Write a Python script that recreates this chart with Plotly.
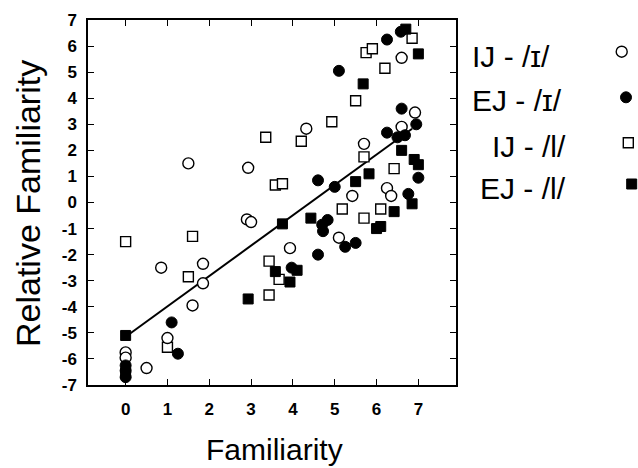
import plotly.graph_objects as go

# ---------------- data ----------------
ij_i_x = [0, 0, 0.5, 1.0, 0.85, 1.5, 1.6, 1.85, 1.85, 2.93, 2.9, 3.0, 3.93, 4.32, 5.1, 5.42, 5.7, 6.25, 6.35, 6.6, 6.6, 6.92]
ij_i_y = [-5.75, -5.95, -6.35, -5.2, -2.5, 1.5, -3.95, -2.35, -3.1, 1.33, -0.65, -0.75, -1.75, 2.83, -1.35, 0.25, 2.25, 0.55, 0.25, 2.9, 5.55, 3.45]

ej_i_x = [0, 0, 0, 1.1, 1.25, 3.97, 4.6, 4.6, 4.7, 4.72, 4.83, 5.0, 5.1, 5.25, 5.5, 6.25, 6.58, 6.25, 6.5, 6.68, 6.6, 6.95, 7.0, 6.76]
ej_i_y = [-6.25, -6.45, -6.7, -4.6, -5.8, -2.5, -2.0, 0.85, -0.85, -1.1, -0.67, 0.6, 5.05, -1.7, -1.55, 6.25, 6.55, 2.68, 2.5, 2.58, 3.6, 3.0, 0.95, 0.33]

ij_l_x = [0, 1.0, 1.5, 1.6, 3.35, 3.43, 3.43, 3.58, 3.75, 3.67, 4.2, 4.93, 5.18, 5.5, 5.7, 5.7, 5.75, 5.9, 6.1, 6.2, 6.42, 6.85]
ij_l_y = [-1.5, -5.55, -2.85, -1.3, 2.5, -2.25, -3.55, 0.67, 0.72, -2.95, 2.35, 3.1, -0.25, 3.9, 1.75, -0.6, 5.75, 5.9, -0.25, 5.15, 1.3, 6.3]

ej_l_x = [0, 0, 2.93, 3.58, 3.75, 3.93, 4.1, 4.43, 5.5, 5.68, 5.82, 6.0, 6.1, 6.42, 6.6, 6.7, 6.85, 6.9, 7.0, 7.0]
ej_l_y = [-5.1, -6.55, -3.7, -2.65, -0.82, -3.05, -2.6, -0.6, 0.8, 4.55, 1.1, -1.0, -0.92, -0.35, 2.0, 6.65, -0.05, 1.65, 1.45, 5.7]

fit_x = [0, 6.85]
fit_y = [-5.15, 2.83]

x_ticks = [0, 1, 2, 3, 4, 5, 6, 7]
y_ticks = [7, 6, 5, 4, 3, 2, 1, 0, -1, -2, -3, -4, -5, -6, -7]
y_tick_text = ["7", "6", "5", "4", "3", "2", "1", "0", "-1", "-2", "-3", "-4", "-5", "-6", "-7"]

legend_labels = ["IJ - /\u026a/", "EJ - /\u026a/", "IJ - /l/", "EJ - /l/"]

# ---------------- layout geometry (pixels in the 638x468 window) ----------------
W, H = 638, 468
PL, PR, PT, PB = 88, 456, 20, 385
FONT = "Liberation Sans, Arial, sans-serif"

def px(x):
    return x / W

def py(y):
    return 1 - y / H

fig = go.Figure()

fig.add_trace(go.Scatter(x=fit_x, y=fit_y, mode="lines",
                         line=dict(color="black", width=2), showlegend=False))

def open_style(sym, size):
    return dict(symbol=sym, size=size, color="white", line=dict(color="black", width=1.4))

def fill_style(sym, size):
    return dict(symbol=sym, size=size, color="black", line=dict(color="black", width=1))

fig.add_trace(go.Scatter(x=ij_l_x, y=ij_l_y, mode="markers", marker=open_style("square", 10), showlegend=False))
fig.add_trace(go.Scatter(x=ij_i_x, y=ij_i_y, mode="markers", marker=open_style("circle", 11), showlegend=False))
fig.add_trace(go.Scatter(x=ej_l_x, y=ej_l_y, mode="markers", marker=fill_style("square", 10), showlegend=False))
fig.add_trace(go.Scatter(x=ej_i_x, y=ej_i_y, mode="markers", marker=fill_style("circle", 11), showlegend=False))

# legend symbols on a full-figure pixel axis pair
leg_sym_x = [621.7, 626, 628.3, 631.7]
leg_sym_y = [51.7, 97.3, 142.7, 184]
leg_styles = [open_style("circle", 11), fill_style("circle", 11), open_style("square", 10), fill_style("square", 10)]
for i in range(4):
    fig.add_trace(go.Scatter(x=[leg_sym_x[i]], y=[leg_sym_y[i]], mode="markers",
                             marker=leg_styles[i], xaxis="x2", yaxis="y2",
                             showlegend=False, cliponaxis=False, hoverinfo="skip"))

leg_text_x = [470, 470, 490, 478]
leg_text_y = [56, 100, 146, 188]
annotations = []
for i in range(4):
    annotations.append(dict(x=px(leg_text_x[i]), y=py(leg_text_y[i]), xref="paper", yref="paper",
                            text=legend_labels[i], showarrow=False, xanchor="left", yanchor="middle",
                            font=dict(family=FONT, size=30, color="black")))
annotations.append(dict(x=px(274), y=py(449), xref="paper", yref="paper", text="Familiarity", showarrow=False,
                        xanchor="center", yanchor="middle", font=dict(family=FONT, size=30, color="black")))
annotations.append(dict(x=px(28), y=py(204), xref="paper", yref="paper", text="Relative Familiarity",
                        showarrow=False, textangle=-90, xanchor="center", yanchor="middle",
                        font=dict(family=FONT, size=34, color="black")))

axis_common = dict(showgrid=False, zeroline=False, showline=True, linecolor="black", linewidth=1.5,
                   ticks="inside", ticklen=6, tickwidth=1.3, tickcolor="black", mirror="ticks",
                   tickfont=dict(family=FONT, size=17, color="black", weight="bold"),
                   automargin=False)

fig.update_layout(
    width=W, height=H, autosize=False,
    margin=dict(l=0, r=0, t=0, b=0, pad=0),
    paper_bgcolor="white", plot_bgcolor="rgba(0,0,0,0)",
    showlegend=False,
    xaxis=dict(range=[-0.9, 7.9], tickmode="array", tickvals=x_ticks,
               domain=[PL / W, PR / W], anchor="y", ticklabelstandoff=8, **axis_common),
    yaxis=dict(range=[-7, 7], tickmode="array", tickvals=y_ticks, ticktext=y_tick_text,
               domain=[1 - PB / H, 1 - PT / H], anchor="x", ticklabelstandoff=6, **axis_common),
    xaxis2=dict(range=[0, W], domain=[0, 1], anchor="y2", visible=False, fixedrange=True),
    yaxis2=dict(range=[H, 0], domain=[0, 1], anchor="x2", visible=False, fixedrange=True),
    annotations=annotations,
)

# remove the browser's default 8px page margin so the figure fills the window exactly
fig.write_html("out.html", config={"displayModeBar": False},
               post_script="document.body.style.margin='0';document.body.style.overflow='hidden';")
